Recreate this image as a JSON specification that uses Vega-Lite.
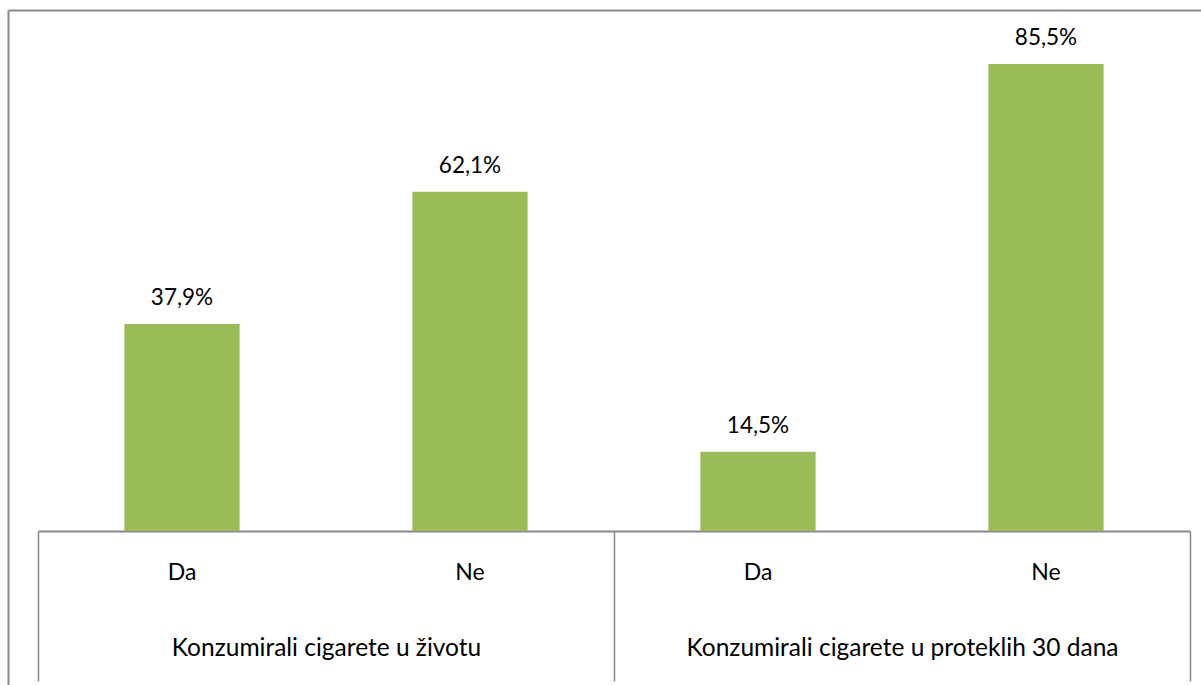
{
  "$schema": "https://vega.github.io/schema/vega-lite/v6.json",
  "usermeta": {"embedOptions": {"actions": false}},
  "width": 1193,
  "height": 521,
  "autosize": {"type": "none"},
  "padding": {"left": 8, "top": 10, "right": 0, "bottom": 154},
  "background": "white",
  "config": {
    "locale": {"number": {"decimal": ",", "thousands": ".", "grouping": [3], "currency": ["", " €"]}},
    "view": {"stroke": null},
    "font": "Lato"
  },
  "data": {
    "values": [
      {"group": "Konzumirali cigarete u životu", "answer": "Da", "share": 0.379},
      {"group": "Konzumirali cigarete u životu", "answer": "Ne", "share": 0.621},
      {"group": "Konzumirali cigarete u proteklih 30 dana", "answer": "Da", "share": 0.145},
      {"group": "Konzumirali cigarete u proteklih 30 dana", "answer": "Ne", "share": 0.855}
    ]
  },
  "resolve": {"scale": {"x": "independent"}, "axis": {"x": "independent"}},
  "layer": [
    {
      "encoding": {
        "x": {
          "field": "group",
          "type": "nominal",
          "sort": null,
          "scale": {"range": [30, 1182], "paddingInner": 0, "paddingOuter": 0},
          "axis": {
            "orient": "bottom",
            "title": null,
            "domainColor": "#898989",
            "domainWidth": 2,
            "tickBand": "extent",
            "tickSize": 150,
            "tickColor": "#898989",
            "tickWidth": 1.5,
            "labelAngle": 0,
            "labelFontSize": 24.5,
            "labelColor": "black",
            "labelBaseline": "middle",
            "labelPadding": -33,
            "labelLimit": 0
          }
        },
        "xOffset": {"field": "answer", "type": "nominal", "scale": {"paddingInner": 0.6, "paddingOuter": 0.3}}
      },
      "layer": [
        {
          "mark": {"type": "bar", "color": "#9BBB59"},
          "encoding": {
            "y": {
              "field": "share",
              "type": "quantitative",
              "scale": {"domain": [-0.282, 0.954], "range": [675, 0], "nice": false, "zero": false},
              "axis": {
                "orient": "left",
                "title": null,
                "domain": true,
                "domainColor": "#898989",
                "domainWidth": 2,
                "ticks": false,
                "labels": false,
                "grid": false
              }
            }
          }
        },
        {
          "mark": {"type": "text", "baseline": "middle", "dy": -26, "fontSize": 22.5, "color": "black"},
          "encoding": {
            "y": {"field": "share", "type": "quantitative"},
            "text": {"field": "share", "type": "quantitative", "format": ".1%"}
          }
        },
        {
          "mark": {"type": "text", "baseline": "middle", "dy": 42, "fontSize": 23, "color": "black"},
          "encoding": {
            "y": {"datum": 0},
            "text": {"field": "answer", "type": "nominal"}
          }
        }
      ]
    },
    {
      "mark": {"type": "point", "opacity": 0},
      "encoding": {
        "x": {
          "field": "share",
          "type": "quantitative",
          "scale": {"domain": [0, 1], "nice": false},
          "axis": {
            "orient": "top",
            "title": null,
            "domain": true,
            "domainColor": "#898989",
            "domainWidth": 2,
            "ticks": false,
            "labels": false,
            "grid": false
          }
        },
        "y": {"field": "share", "type": "quantitative"}
      }
    }
  ]
}
